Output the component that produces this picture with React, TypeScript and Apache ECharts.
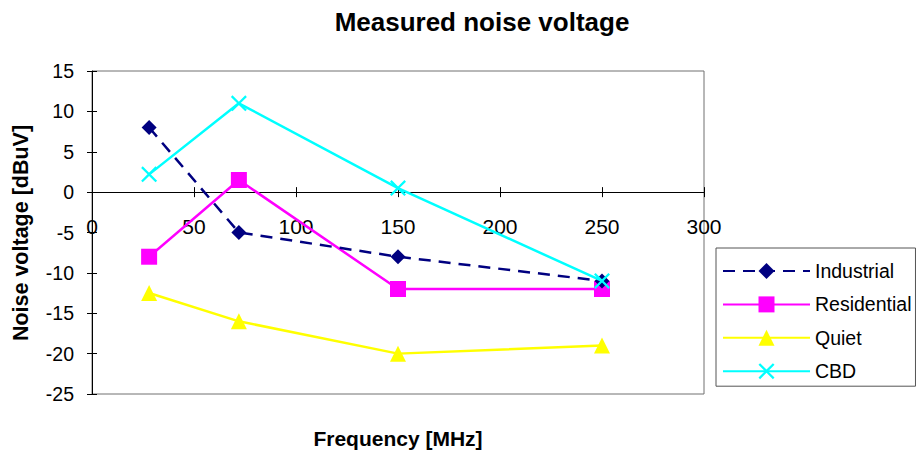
import React, { useEffect, useRef } from "react";
import * as echarts from "echarts";

const frequencies = [28, 72, 150, 250];
const industrial = [8, -5, -8, -11];
const residential = [-8, 1.5, -12, -12];
const quiet = [-12.5, -16, -20, -19];
const cbd = [2.2, 11, 0.5, -11];
const seriesNames = ["Industrial", "Residential", "Quiet", "CBD"];

const xTicks = { min: 0, max: 300, interval: 50 };
const yTicks = { min: -25, max: 15, interval: 5 };

const FONT = "Liberation Sans, Arial, sans-serif";
const X_SYMBOL = "path://M0,1L1,0L5,4L9,0L10,1L6,5L10,9L9,10L5,6L1,10L0,9L4,5Z";

const W = 917;
const H = 452;
const GRID = { left: 92, right: 213, top: 71, bottom: 58 };

const pairs = (ys: number[]) => frequencies.map((f, i) => [f, ys[i]]);

export default function App() {
  const ref = useRef<HTMLDivElement>(null);
  useEffect(() => {
    document.body.style.margin = "0";
    const chart = echarts.init(ref.current!, null, { renderer: "svg" });
    const tickStyle = { color: "#000", width: 1 };
    const gridH = H - GRID.top - GRID.bottom;
    const gridW = W - GRID.left - GRID.right;
    // distance of the value-zero line from the bottom / top of the plot
    const zeroFromBottom = (gridH * (0 - yTicks.min)) / (yTicks.max - yTicks.min);
    const zeroFromTop = gridH - zeroFromBottom;
    chart.setOption({
      animation: false,
      backgroundColor: "#fff",
      title: {
        text: "Measured noise voltage",
        left: 477,
        top: 4,
        textAlign: "center",
        textStyle: { fontSize: 26, fontWeight: "bold", fontFamily: FONT, color: "#000" },
      },
      grid: {
        ...GRID,
        show: true,
        borderColor: "#707070",
        borderWidth: 1,
      },
      legend: {
        orient: "vertical",
        left: 716,
        top: 248,
        itemWidth: 87,
        itemHeight: 20,
        itemGap: 13.4,
        padding: [13, 4, 5, 6],
        borderColor: "#555",
        borderWidth: 1,
        textStyle: { fontSize: 19.5, fontFamily: FONT, color: "#000" },
        data: seriesNames,
      },
      xAxis: [
        {
          type: "value",
          position: "bottom",
          offset: -zeroFromBottom,
          ...xTicks,
          axisLine: { onZero: false, lineStyle: { color: "#000", width: 1 } },
          axisTick: { show: true, inside: false, length: 5, lineStyle: tickStyle },
          axisLabel: { color: "#000", fontSize: 21, fontFamily: FONT, margin: 24 },
          splitLine: { show: false },
        },
        {
          type: "value",
          position: "top",
          offset: -zeroFromTop,
          ...xTicks,
          axisLine: { show: false, onZero: false },
          axisTick: { show: true, inside: false, length: 5, lineStyle: tickStyle },
          axisLabel: { show: false },
          splitLine: { show: false },
        },
      ],
      yAxis: [
        {
          type: "value",
          position: "left",
          ...yTicks,
          axisLine: { show: true, onZero: false, lineStyle: { color: "#000", width: 1 } },
          axisTick: { show: true, inside: false, length: 5, lineStyle: tickStyle },
          axisLabel: { color: "#000", fontSize: 19.5, fontFamily: FONT, margin: 18 },
          splitLine: { show: false },
        },
        {
          type: "value",
          position: "right",
          offset: -gridW,
          ...yTicks,
          axisLine: { show: false, onZero: false },
          axisTick: { show: true, inside: false, length: 5, lineStyle: tickStyle },
          axisLabel: { show: false },
          splitLine: { show: false },
        },
      ],
      graphic: [
        {
          type: "text",
          x: 21,
          y: 233,
          rotation: Math.PI / 2,
          style: {
            text: "Noise voltage [dBuV]",
            fontSize: 21.5,
            fontWeight: "bold",
            fontFamily: FONT,
            fill: "#000",
            align: "center",
            verticalAlign: "middle",
          },
        },
        {
          type: "text",
          x: 398,
          y: 438,
          style: {
            text: "Frequency [MHz]",
            fontSize: 21,
            fontWeight: "bold",
            fontFamily: FONT,
            fill: "#000",
            align: "center",
            verticalAlign: "middle",
          },
        },
      ],
      series: [
        {
          name: seriesNames[0],
          type: "line",
          data: pairs(industrial),
          symbol: "diamond",
          symbolSize: 15,
          color: "#000080",
          lineStyle: { color: "#000080", width: 2.5, type: [12, 8] },
          itemStyle: { color: "#000080" },
          z: 5,
        },
        {
          name: seriesNames[1],
          type: "line",
          data: pairs(residential),
          symbol: "rect",
          symbolSize: 16,
          color: "#FF00FF",
          lineStyle: { color: "#FF00FF", width: 2.5 },
          itemStyle: { color: "#FF00FF" },
          z: 4,
        },
        {
          name: seriesNames[2],
          type: "line",
          data: pairs(quiet),
          symbol: "triangle",
          symbolSize: 16,
          color: "#FFFF00",
          lineStyle: { color: "#FFFF00", width: 2.5 },
          itemStyle: { color: "#FFFF00" },
          z: 3,
        },
        {
          name: seriesNames[3],
          type: "line",
          data: pairs(cbd),
          symbol: X_SYMBOL,
          symbolSize: 16,
          color: "#00FFFF",
          lineStyle: { color: "#00FFFF", width: 2.5 },
          itemStyle: { color: "#00FFFF" },
          z: 6,
        },
      ],
    });
    return () => chart.dispose();
  }, []);
  return (
    <div
      ref={ref}
      style={{ position: "absolute", left: 0, top: 0, width: W, height: H }}
    />
  );
}
